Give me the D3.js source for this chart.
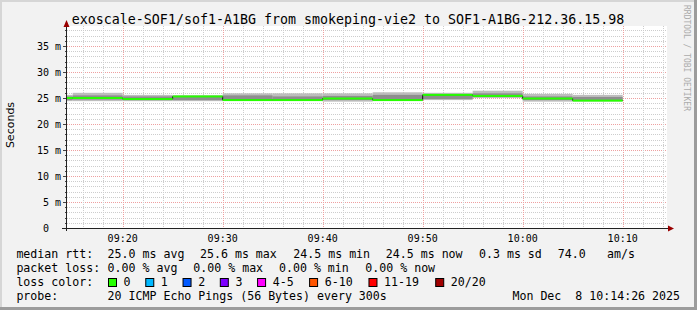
<!DOCTYPE html>
<html><head><meta charset="utf-8">
<script src="https://cdn.jsdelivr.net/npm/d3@7"></script>
<style>
html,body{margin:0;padding:0;background:#f2f2f2}
svg{display:block}
text{font-family:"DejaVu Sans Mono",monospace;white-space:pre;fill:#000}
</style>
</head><body>
<svg id="c" width="697" height="310"></svg>
<script>
// ---- data ----
const binEnd    = ["09:15","09:20","09:25","09:30","09:35","09:40","09:45","09:50","09:55","10:00","10:05","10:10"];
const median    = [25.0, 25.0, 24.8, 25.3, 24.6, 24.6, 24.9, 24.6, 25.6, 25.4, 24.9, 24.5];
const smokeMax  = [25.6, 26.0, 25.6, 25.5, 25.9, 25.9, 25.9, 26.1, 26.0, 26.4, 25.8, 25.6];
const smokeHi   = [25.3, 25.5, 25.3, 25.3, 25.5, 25.3, 25.4, 25.6, 25.7, 25.9, 25.3, 25.2];
const smokeLo   = [24.6, 24.7, 24.6, 24.6, 24.6, 24.7, 24.6, 24.8, 24.8, 25.2, 24.6, 24.6];
const smokeMin  = [24.4, 24.4, 24.4, 24.4, 24.5, 24.5, 24.3, 24.5, 24.6, 25.0, 24.3, 24.4];
const yTicks    = [0, 5, 10, 15, 20, 25, 30, 35];
const xTickLabels = ["09:20","09:30","09:40","09:50","10:00","10:10"];
const rttStats  = ["25.0 ms avg","25.6 ms max","24.5 ms min","24.5 ms now","0.3 ms sd","74.0","am/s"];
const lossStats = ["0.00 % avg","0.00 % max","0.00 % min","0.00 % now"];
const lossLabels = ["0","1","2","3","4-5","6-10","11-19","20/20"];
const lossColors = ["#26ff00","#00b8ff","#0059ff","#7e00ff","#ff00ff","#ff5500","#ff0000","#a00000"];
const titleText = "exoscale-SOF1/sof1-A1BG from smokeping-vie2 to SOF1-A1BG-212.36.15.98";
const probeText = "20 ICMP Echo Pings (56 Bytes) every 300s";
const dateText  = "Mon Dec  8 10:14:26 2025";
const watermark = "RRDTOOL / TOBI OETIKER";

// ---- setup ----
const svg = d3.select("#c");
const parse = d3.timeParse("%Y-%m-%d %H:%M:%S");
const day = "2025-12-08 ";
const tStart = parse(day + "09:14:26"), tEnd = parse(day + "10:14:26");
const L = 67, R = 667, T = 26, B = 228;
const x = d3.scaleTime().domain([tStart, tEnd]).range([L, R]);
const y = d3.scaleLinear().domain([0, (B - T) / 5.2]).range([B, T]);

// frame
svg.append("rect").attr("width",697).attr("height",310).attr("fill","#f2f2f2");
svg.append("rect").attr("x",0).attr("y",0).attr("width",697).attr("height",2).attr("fill","#d6d6d6");
svg.append("rect").attr("x",0).attr("y",0).attr("width",2).attr("height",310).attr("fill","#d6d6d6");
svg.append("rect").attr("x",694).attr("y",0).attr("width",3).attr("height",310).attr("fill","#9c9c9c");
svg.append("rect").attr("x",0).attr("y",307).attr("width",697).attr("height",3).attr("fill","#9c9c9c");

// canvas
svg.append("rect").attr("x",L).attr("y",T).attr("width",R-L).attr("height",B-T).attr("fill","#ffffff");

// grid
const g = svg.append("g");
const minorCol = "#cdcdcd", majorCol = "#eea0a0";
for (let v = 1; v <= Math.floor(y.domain()[1]); v++) {
  const yy = Math.round(y(v)) + 0.5;
  g.append("line").attr("x1",L).attr("x2",R).attr("y1",yy).attr("y2",yy)
    .attr("stroke", v % 5 === 0 ? majorCol : minorCol).attr("stroke-dasharray","1,1");
}
d3.timeMinute.every(2).range(tStart, tEnd).forEach(t => {
  const xx = Math.round(x(t)) + 0.5;
  const major = t.getMinutes() % 10 === 0;
  g.append("line").attr("x1",xx).attr("x2",xx).attr("y1",T).attr("y2",B)
    .attr("stroke", major ? majorCol : minorCol).attr("stroke-dasharray","1,1");
});

// bins
const bins = binEnd.map((s, i) => {
  const e = parse(day + s + ":00");
  const b = new Date(+e - 5 * 60 * 1000);
  return {x0: x(b < tStart ? tStart : b), x1: x(e), med: median[i],
          mx: smokeMax[i], hi: smokeHi[i], lo: smokeLo[i], mn: smokeMin[i]};
});

// smoke
const sm = svg.append("g");
sm.selectAll("rect.o").data(bins).join("rect").attr("class","o")
  .attr("x",d=>d.x0).attr("width",d=>d.x1-d.x0)
  .attr("y",d=>y(d.mx)).attr("height",d=>y(d.mn)-y(d.mx)).attr("fill","#bdbdbd");
sm.selectAll("rect.i").data(bins).join("rect").attr("class","i")
  .attr("x",d=>d.x0).attr("width",d=>d.x1-d.x0)
  .attr("y",d=>y(d.hi)).attr("height",d=>y(d.lo)-y(d.hi)).attr("fill","#8e8e8e");

// median step line (dark) and green loss-colored bars
const pts = [];
bins.forEach(d => { pts.push([d.x0, y(d.med)]); pts.push([d.x1, y(d.med)]); });
svg.append("path").attr("d", d3.line()(pts)).attr("fill","none").attr("stroke","#101010").attr("stroke-width",1);
svg.selectAll("rect.m").data(bins).join("rect").attr("class","m")
  .attr("x",d=>d.x0).attr("width",d=>d.x1-d.x0)
  .attr("y",d=>y(d.med)-1).attr("height",2).attr("fill",lossColors[0]);

// axes
const ax = svg.append("g");
ax.append("line").attr("x1",66.5).attr("x2",66.5).attr("y1",231).attr("y2",24).attr("stroke","#222");
ax.append("path").attr("d","M63.5,27L69.5,27L66.5,20Z").attr("fill","#9a0000");
ax.append("line").attr("x1",62).attr("x2",669).attr("y1",228.5).attr("y2",228.5).attr("stroke","#222");
ax.append("path").attr("d","M668,225.5L668,231.5L674,228.5Z").attr("fill","#9a0000");
for (let v = 1; v <= Math.floor(y.domain()[1]); v++) {
  const yy = Math.round(y(v)) + 0.5;
  ax.append("line").attr("x1", v % 5 === 0 ? 63 : 65).attr("x2",66).attr("y1",yy).attr("y2",yy).attr("stroke","#444");
}

// y tick labels
svg.selectAll("text.yt").data(yTicks).join("text").attr("class","yt")
  .attr("x",61).attr("y",d=>y(d)+3.5).attr("text-anchor","end")
  .style("font-size","10px").text(d => d === 0 ? " 0  " : d + " m");

// x tick labels
svg.selectAll("text.xt").data(xTickLabels).join("text").attr("class","xt")
  .attr("x",d=>x(parse(day + d + ":00"))).attr("y",241.5).attr("text-anchor","middle")
  .style("font-size","10px").text(d=>d);

// y axis title
svg.append("text").attr("transform","translate(14,125) rotate(-90)").attr("text-anchor","middle")
  .style("font-family","'DejaVu Sans',sans-serif").style("font-size","11px").text("Seconds");

// title
svg.append("text").attr("x",348).attr("y",24).attr("text-anchor","middle")
  .style("font-size","13.3px").text(titleText);

// watermark
svg.append("text").attr("transform","translate(684,5) rotate(90)")
  .style("font-size","8px").style("fill","#ababab").text(watermark);

// legend
const lf = "11.6px";
const leg = svg.append("g").style("font-size", lf);
const rttX = [107.6, 200, 293.3, 385.8, 479, 557.8, 607];
leg.append("text").attr("x",16.4).attr("y",258).text("median rtt:");
rttStats.forEach((s,i)=>leg.append("text").attr("x",rttX[i]).attr("y",258).text(s));
const lossX = [107.6, 193.3, 279, 365.3];
leg.append("text").attr("x",16.4).attr("y",272).text("packet loss:");
lossStats.forEach((s,i)=>leg.append("text").attr("x",lossX[i]).attr("y",272).text(s));
leg.append("text").attr("x",16.4).attr("y",286).text("loss color:");
let sx = 108;
lossLabels.forEach((s,i)=>{
  leg.append("rect").attr("x",sx+0.5).attr("y",278.5).attr("width",8).attr("height",8)
    .attr("fill",lossColors[i]).attr("stroke","#000").attr("stroke-width",1);
  leg.append("text").attr("x",sx+15.6).attr("y",286).text(s);
  sx = sx + 15.6 + s.length * 7.37 + 14.3;
});
leg.append("text").attr("x",16.4).attr("y",300).text("probe:");
leg.append("text").attr("x",107.6).attr("y",300).text(probeText);
leg.append("text").attr("x",680).attr("y",300).attr("text-anchor","end").text(dateText);
</script>
</body></html>
